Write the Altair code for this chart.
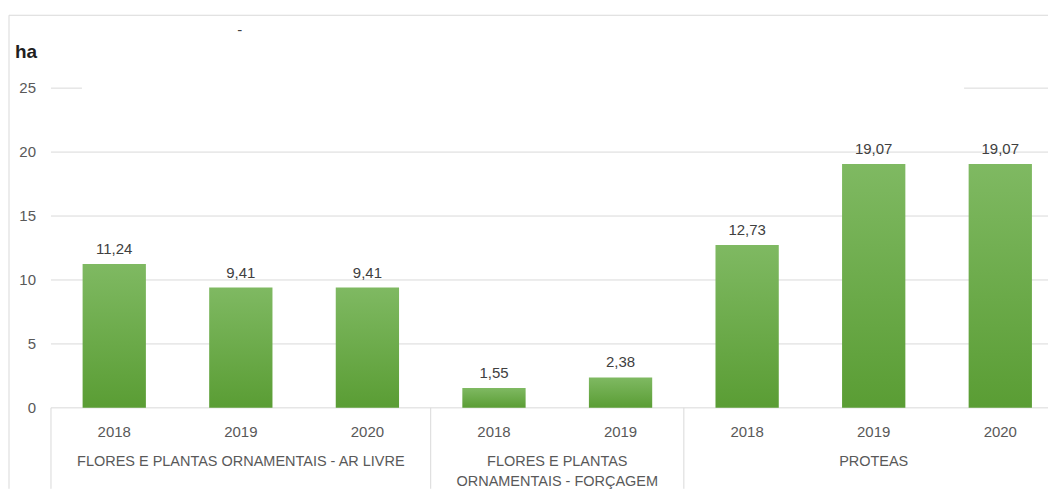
import altair as alt
import pandas as pd

groups = ["FLORES E PLANTAS ORNAMENTAIS - AR LIVRE"] * 3 + \
         ["FLORES E PLANTAS\nORNAMENTAIS - FORÇAGEM"] * 2 + \
         ["PROTEAS"] * 3
years = ["2018", "2019", "2020", "2018", "2019", "2018", "2019", "2020"]
values = [11.24, 9.41, 9.41, 1.55, 2.38, 12.73, 19.07, 19.07]
y_ticks = [0, 5, 10, 15, 20, 25]
unit = "ha"

FONT = "Liberation Sans"
GRAY = "#595959"
LINE = "#d9d9d9"
XDOM = [-0.8394, 7.377]
YDOM = [-6.328, 31.25]

df = pd.DataFrame({"group": groups, "year": years, "value": values})
df["idx"] = list(range(len(df)))
df["xa"] = df["idx"] - 0.25
df["xb"] = df["idx"] + 0.25
df["zero"] = 0.0
df["label"] = [f"{v:.2f}".replace(".", ",") for v in values]
df["yl"] = -1.875

# group label lines and separators
g = df.groupby("group", sort=False)["idx"].agg(["mean", "min"]).reset_index()
rows = []
for _, r in g.iterrows():
    for k, line in enumerate(r["group"].split("\n")):
        rows.append({"text": line, "cx": r["mean"], "cy": -4.22 - 1.56 * k})
glab = pd.DataFrame(rows)
sep = pd.DataFrame({"sx": g["min"] - 0.5, "sy": 0.0, "sy2": YDOM[0]})

grid = pd.DataFrame({"ga": [-0.5] * 5, "gb": [XDOM[1]] * 5, "gv": y_ticks[:-1]})
grid25 = pd.DataFrame({"ga": [-0.5, 6.714], "gb": [-0.255, XDOM[1]], "gv": [25, 25]})
ticks = pd.DataFrame({"tv": y_ticks, "tx": -0.6184, "tt": [str(t) for t in y_ticks]})
title = pd.DataFrame({"tx": [-0.7842], "ty": [27.81], "tt": [unit]})
dash = pd.DataFrame({"tx": [0.9917], "ty": [29.53], "tt": ["-"]})
border_v = pd.DataFrame({"bx": [-0.8315], "by": [YDOM[0]], "by2": [30.70]})
border_h = pd.DataFrame({"bx": [-0.8315], "bx2": [XDOM[1]], "by": [30.70]})

xs = alt.Scale(domain=XDOM, nice=False, zero=False)
ys = alt.Scale(domain=YDOM, nice=False, zero=False)
noax = None

def X(f):
    return alt.X(f, type="quantitative", scale=xs, axis=noax)

def Y(f):
    return alt.Y(f, type="quantitative", scale=ys, axis=noax)

l_grid = alt.Chart(grid).mark_rule(color=LINE).encode(x=X("ga"), x2="gb", y=Y("gv"))
l_grid25 = alt.Chart(grid25).mark_rule(color=LINE).encode(x=X("ga"), x2="gb", y=Y("gv"))
l_bv = alt.Chart(border_v).mark_rule(color=LINE).encode(x=X("bx"), y=Y("by"), y2="by2")
l_bh = alt.Chart(border_h).mark_rule(color=LINE).encode(x=X("bx"), x2="bx2", y=Y("by"))
l_sep = alt.Chart(sep).mark_rule(color=LINE).encode(x=X("sx"), y=Y("sy"), y2="sy2")

grad = alt.Gradient(
    gradient="linear",
    stops=[alt.GradientStop(color="#7fb962", offset=0),
           alt.GradientStop(color="#5a9d34", offset=1)],
    x1=0, x2=0, y1=0, y2=1,
)
l_bars = alt.Chart(df).mark_bar(color=grad).encode(
    x=X("xa"), x2="xb", y=Y("value"), y2="zero"
)
l_vlab = alt.Chart(df).mark_text(dy=-15, font=FONT, fontSize=15, color="#404040").encode(
    x=X("idx"), y=Y("value"), text="label:N"
)
l_year = alt.Chart(df).mark_text(font=FONT, fontSize=15, color=GRAY, baseline="middle").encode(
    x=X("idx"), y=Y("yl"), text="year:N"
)
l_glab = alt.Chart(glab).mark_text(font=FONT, fontSize=14.5, color=GRAY, baseline="middle").encode(
    x=X("cx"), y=Y("cy"), text="text:N"
)
l_ticks = alt.Chart(ticks).mark_text(font=FONT, fontSize=15, color=GRAY, align="right", baseline="middle").encode(
    x=X("tx"), y=Y("tv"), text="tt:N"
)
l_title = alt.Chart(title).mark_text(font=FONT, fontSize=19, fontWeight="bold", color="#1f1f1f", align="left", baseline="middle").encode(
    x=X("tx"), y=Y("ty"), text="tt:N"
)
l_dash = alt.Chart(dash).mark_text(font=FONT, fontSize=15, color="#404040").encode(
    x=X("tx"), y=Y("ty"), text="tt:N"
)

chart = alt.layer(
    l_bv, l_bh, l_grid, l_grid25, l_sep, l_bars, l_vlab, l_year, l_glab, l_ticks, l_title, l_dash
).properties(
    width=1041, height=481, padding=0, background="white"
).configure_view(strokeWidth=0)

chart.save("out.html", embed_options={"renderer": "svg", "actions": False})
